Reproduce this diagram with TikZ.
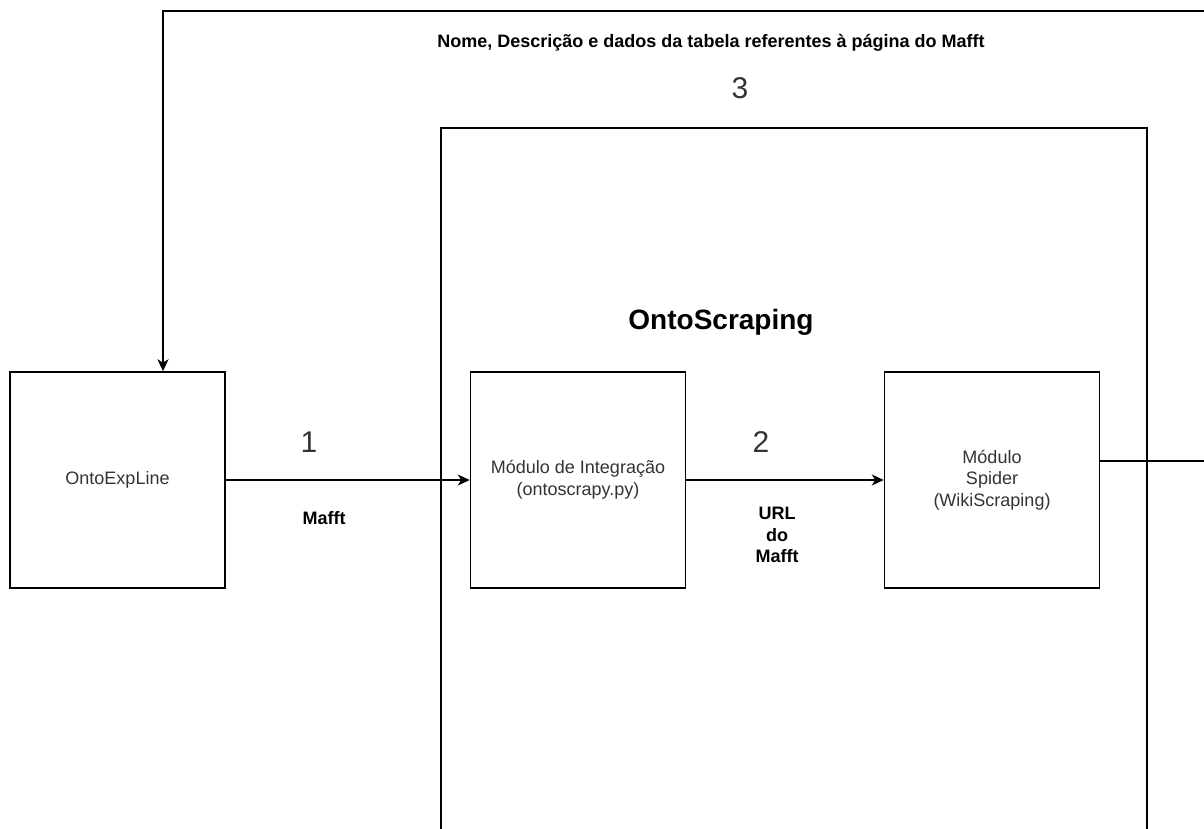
\documentclass[tikz,border=0pt]{standalone}
\usepackage{fontspec}
\setmainfont{Liberation Sans}
\usetikzlibrary{arrows.meta}
\definecolor{ink}{HTML}{333333}

\begin{document}
\begin{tikzpicture}[
  x=1pt,y=-1pt,
  text=ink,
  arrow/.style={-{Stealth[length=12pt,width=11pt,inset=3.5pt]},draw=black,line width=1.5pt},
  box/.style={draw=black,line width=1.5pt,inner sep=0pt,align=center,
    minimum width=215pt,minimum height=216pt,font=\fontsize{18}{21.6}\selectfont},
  num/.style={font=\fontsize{30}{36}\selectfont},
  tag/.style={font=\fontsize{18}{21.6}\selectfont\bfseries,text=black,align=center}
]
  \useasboundingbox (0,0) rectangle (1204,828);
  \clip (0,0) rectangle (1204,828);

  % container, runs past the bottom edge
  \node[draw=black,line width=1.5pt,inner sep=0pt,anchor=north west,
    minimum width=706pt,minimum height=800pt] (scraping) at (440,127) {};
  \node[font=\fontsize{28}{34}\selectfont\bfseries,text=black] (title) at (721,322) {OntoScraping};

  \node[box] (onto) at (117.5,480) {OntoExpLine};
  \node[box] (integ) at (578,480) {Módulo de Integração\\(ontoscrapy.py)};
  \node[box] (spider) at (992,480) {Módulo\\Spider\\(WikiScraping)};

  \draw[arrow] (onto.east) -- (integ.west);
  \draw[arrow] (integ.east) -- (spider.west);
  \coordinate (far) at (1240,11);
  \draw[arrow] ([yshift=19pt]spider.east) -| (far) -| ([xshift=45.5pt]onto.north);

  \node[num] (one) at (309,442) {1};
  \node[tag] (mafft) at (324,518) {Mafft};
  \node[num] (two) at (761,442) {2};
  \node[tag] (url) at (777,535) {URL\\do\\Mafft};
  \node[num] (three) at (740,88) {3};
  \node[tag] (back) at (711,43)
    {Nome, Descrição e dados da tabela referentes à página do Mafft};
\end{tikzpicture}
\end{document}
